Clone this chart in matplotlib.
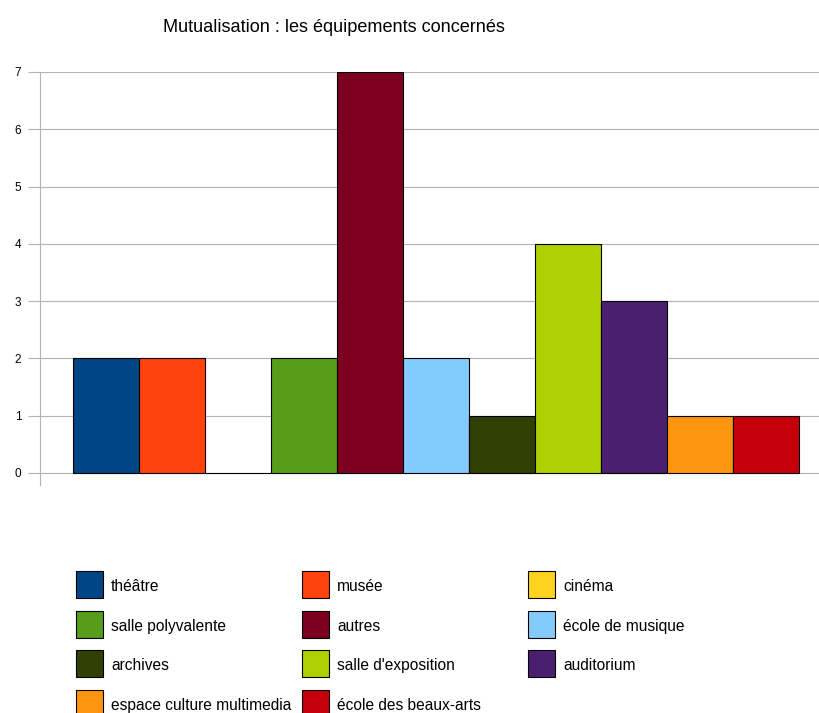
import matplotlib
matplotlib.use("Agg")
import matplotlib.pyplot as plt
import matplotlib.patches as patches

plt.rcParams['font.family'] = ['Liberation Sans', 'DejaVu Sans']

title = "Mutualisation : les équipements concernés"
categories = ["théâtre", "musée", "cinéma", "salle polyvalente", "autres",
              "école de musique", "archives", "salle d'exposition", "auditorium",
              "espace culture multimedia", "école des beaux-arts"]
values = [2, 2, 0, 2, 7, 2, 1, 4, 3, 1, 1]
colors = ["#004586", "#ff420e", "#ffd320", "#579d1c", "#7e0021", "#83caff",
          "#314004", "#aecf00", "#4b1f6f", "#ff950e", "#c5000b"]
yticks = [0, 1, 2, 3, 4, 5, 6, 7]

W, H = 820, 713
fig = plt.figure(figsize=(W / 100, H / 100), dpi=100)
ax = fig.add_axes([40 / W, 1 - 485 / H, 1 - 40 / W, (485 - 72) / H])

for i in range(len(values)):
    ax.bar(i, values[i], width=1.0, color=colors[i], edgecolor='black',
           linewidth=0.8, zorder=3)

ax.set_xlim(-1.0, 10.82)
ax.set_ylim(-0.21, 7)
ax.set_yticks(yticks)
ax.set_xticks([])
ax.yaxis.grid(True, color='#b3b3b3', linewidth=0.8, zorder=0)
ax.tick_params(axis='y', length=9, color='#b3b3b3', width=0.8,
               labelsize=8.5, pad=4.5)
for s in ['top', 'right', 'bottom']:
    ax.spines[s].set_visible(False)
ax.spines['left'].set_color('#b3b3b3')
ax.spines['left'].set_linewidth(0.8)

fig.text(334 / W, 1 - 27 / H, title, ha='center', va='center', fontsize=13.1)

# legend, filled row by row in 3 columns
col_x = [76, 302, 528]
row_y = [584, 624, 663, 703]
for k, name in enumerate(categories):
    r, c = divmod(k, 3)
    x0 = col_x[c]
    yc = row_y[r]
    rect = patches.Rectangle((x0 / W, 1 - (yc + 13.5) / H), 27 / W, 27 / H,
                             transform=fig.transFigure, facecolor=colors[k],
                             edgecolor='black', linewidth=0.8)
    fig.patches.append(rect)
    fig.text((x0 + 35) / W, 1 - (yc + 1) / H, name, ha='left',
             va='center_baseline', fontsize=11.2)

fig.savefig("out.png", dpi=100)
